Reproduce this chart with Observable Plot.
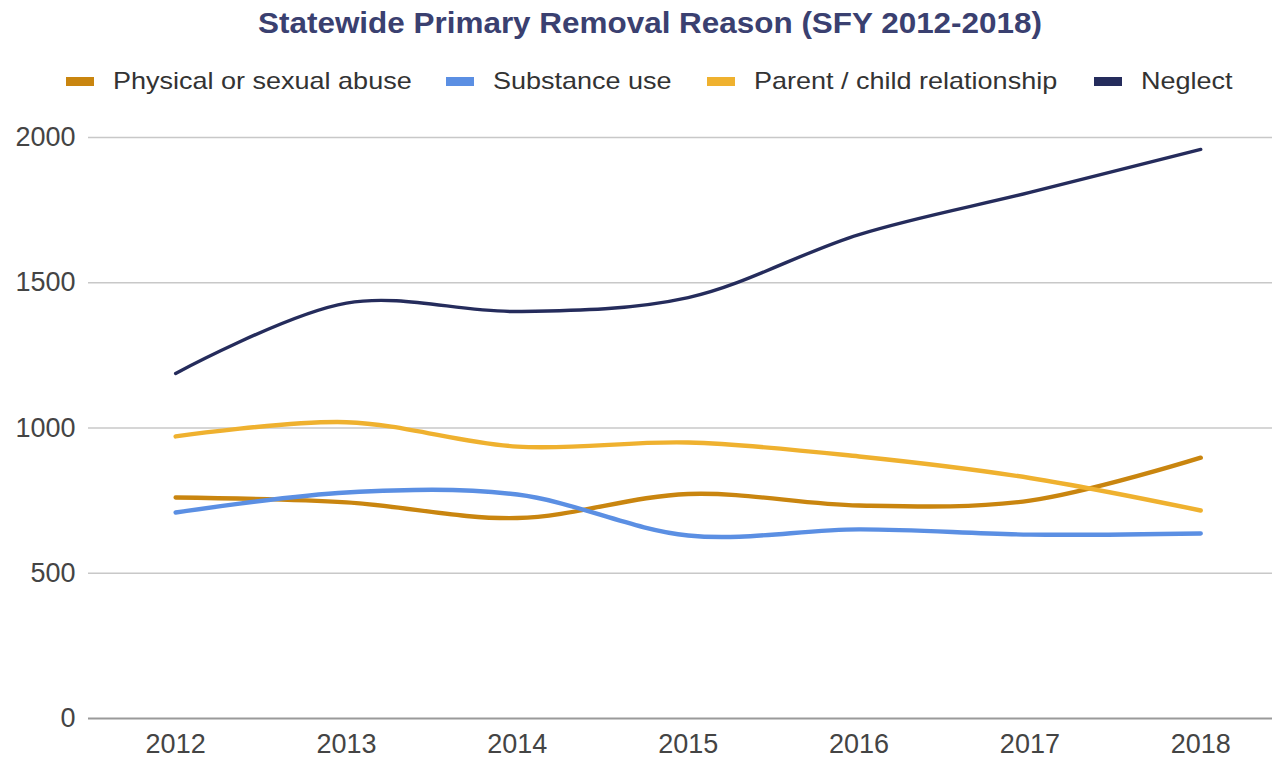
<!DOCTYPE html>
<html>
<head>
<meta charset="utf-8">
<script src="https://cdn.jsdelivr.net/npm/d3@7"></script>
<script src="https://cdn.jsdelivr.net/npm/@observablehq/plot@0.6"></script>
<style>
  html, body { margin: 0; padding: 0; background: #fff; }
  body { width: 1272px; height: 758px; overflow: hidden; font-family: "Liberation Sans", Arial, sans-serif; }
  #head { position: relative; height: 105px; }
  #title { position: absolute; left: 0; width: 1300px; top: 7px; text-align: center; font-size: 29px; font-weight: bold; color: #3a4070; transform: scaleX(1.084); transform-origin: 650px 0; white-space: nowrap; }
  .leg { position: absolute; top: 66px; height: 30px; display: flex; align-items: center; font-size: 24px; color: #333; white-space: nowrap; }
  .sw { display: inline-block; width: 28px; height: 9px; margin-right: 19px; }
  .lt { display: inline-block; transform: scaleX(1.125); transform-origin: 0 50%; }
  #chart svg { display: block; }
</style>
</head>
<body>
<div id="head">
  <div id="title">Statewide Primary Removal Reason (SFY 2012-2018)</div>
  <div id="legend"></div>
</div>
<div id="chart"></div>
<script>
const years = [2012, 2013, 2014, 2015, 2016, 2017, 2018];
const seriesNames = ["Physical or sexual abuse", "Substance use", "Parent / child relationship", "Neglect"];
const seriesColors = ["#c9850f", "#5b8fe3", "#efb12f", "#252c5c"];
const physical = [761, 744, 690, 773, 733, 750, 898];
const substance = [709, 778, 771, 630, 651, 633, 637];
const parentChild = [971, 1020, 936, 950, 902, 828, 716];
const neglect = [1188, 1430, 1401, 1449, 1666, 1811, 1959];
const yTicks = [0, 500, 1000, 1500, 2000];
const legendX = [66, 446, 707, 1094];

const seriesValues = [physical, substance, parentChild, neglect];
const data = [];
seriesNames.forEach((name, i) => {
  years.forEach((yr, j) => data.push({series: name, year: yr, value: seriesValues[i][j]}));
});

// legend
const legend = document.getElementById("legend");
seriesNames.forEach((name, i) => {
  const d = document.createElement("div");
  d.className = "leg";
  d.style.left = legendX[i] + "px";
  d.innerHTML = `<span class="sw" style="background:${seriesColors[i]}"></span><span class="lt">${name}</span>`;
  legend.appendChild(d);
});

const chart = Plot.plot({
  width: 1272,
  height: 653,
  marginLeft: 88,
  marginRight: 0,
  marginTop: 32,
  marginBottom: 40,
  style: {fontFamily: "Liberation Sans, Arial, sans-serif", fontSize: "27px", color: "#444", background: "#fff"},
  x: {domain: [2011.49, 2018.42], ticks: years, tickFormat: "d", tickSize: 0, tickPadding: 15, label: null},
  y: {domain: [0, 2000], ticks: yTicks, tickFormat: "d", tickSize: 0, tickPadding: 13, label: null},
  color: {domain: seriesNames, range: seriesColors},
  marks: [
    Plot.ruleY(yTicks.filter(t => t > 0), {stroke: "#c8c8c8", strokeWidth: 1.5}),
    Plot.ruleY([0], {stroke: "#9a9a9a", strokeWidth: 2}),
    ...seriesNames.map(name => Plot.line(data.filter(d => d.series === name), {
      x: "year", y: "value", stroke: "series", strokeWidth: name === "Neglect" ? 3.4 : 4.4, curve: "catmull-rom"
    }))
  ]
});
document.getElementById("chart").appendChild(chart);
</script>
</body>
</html>
